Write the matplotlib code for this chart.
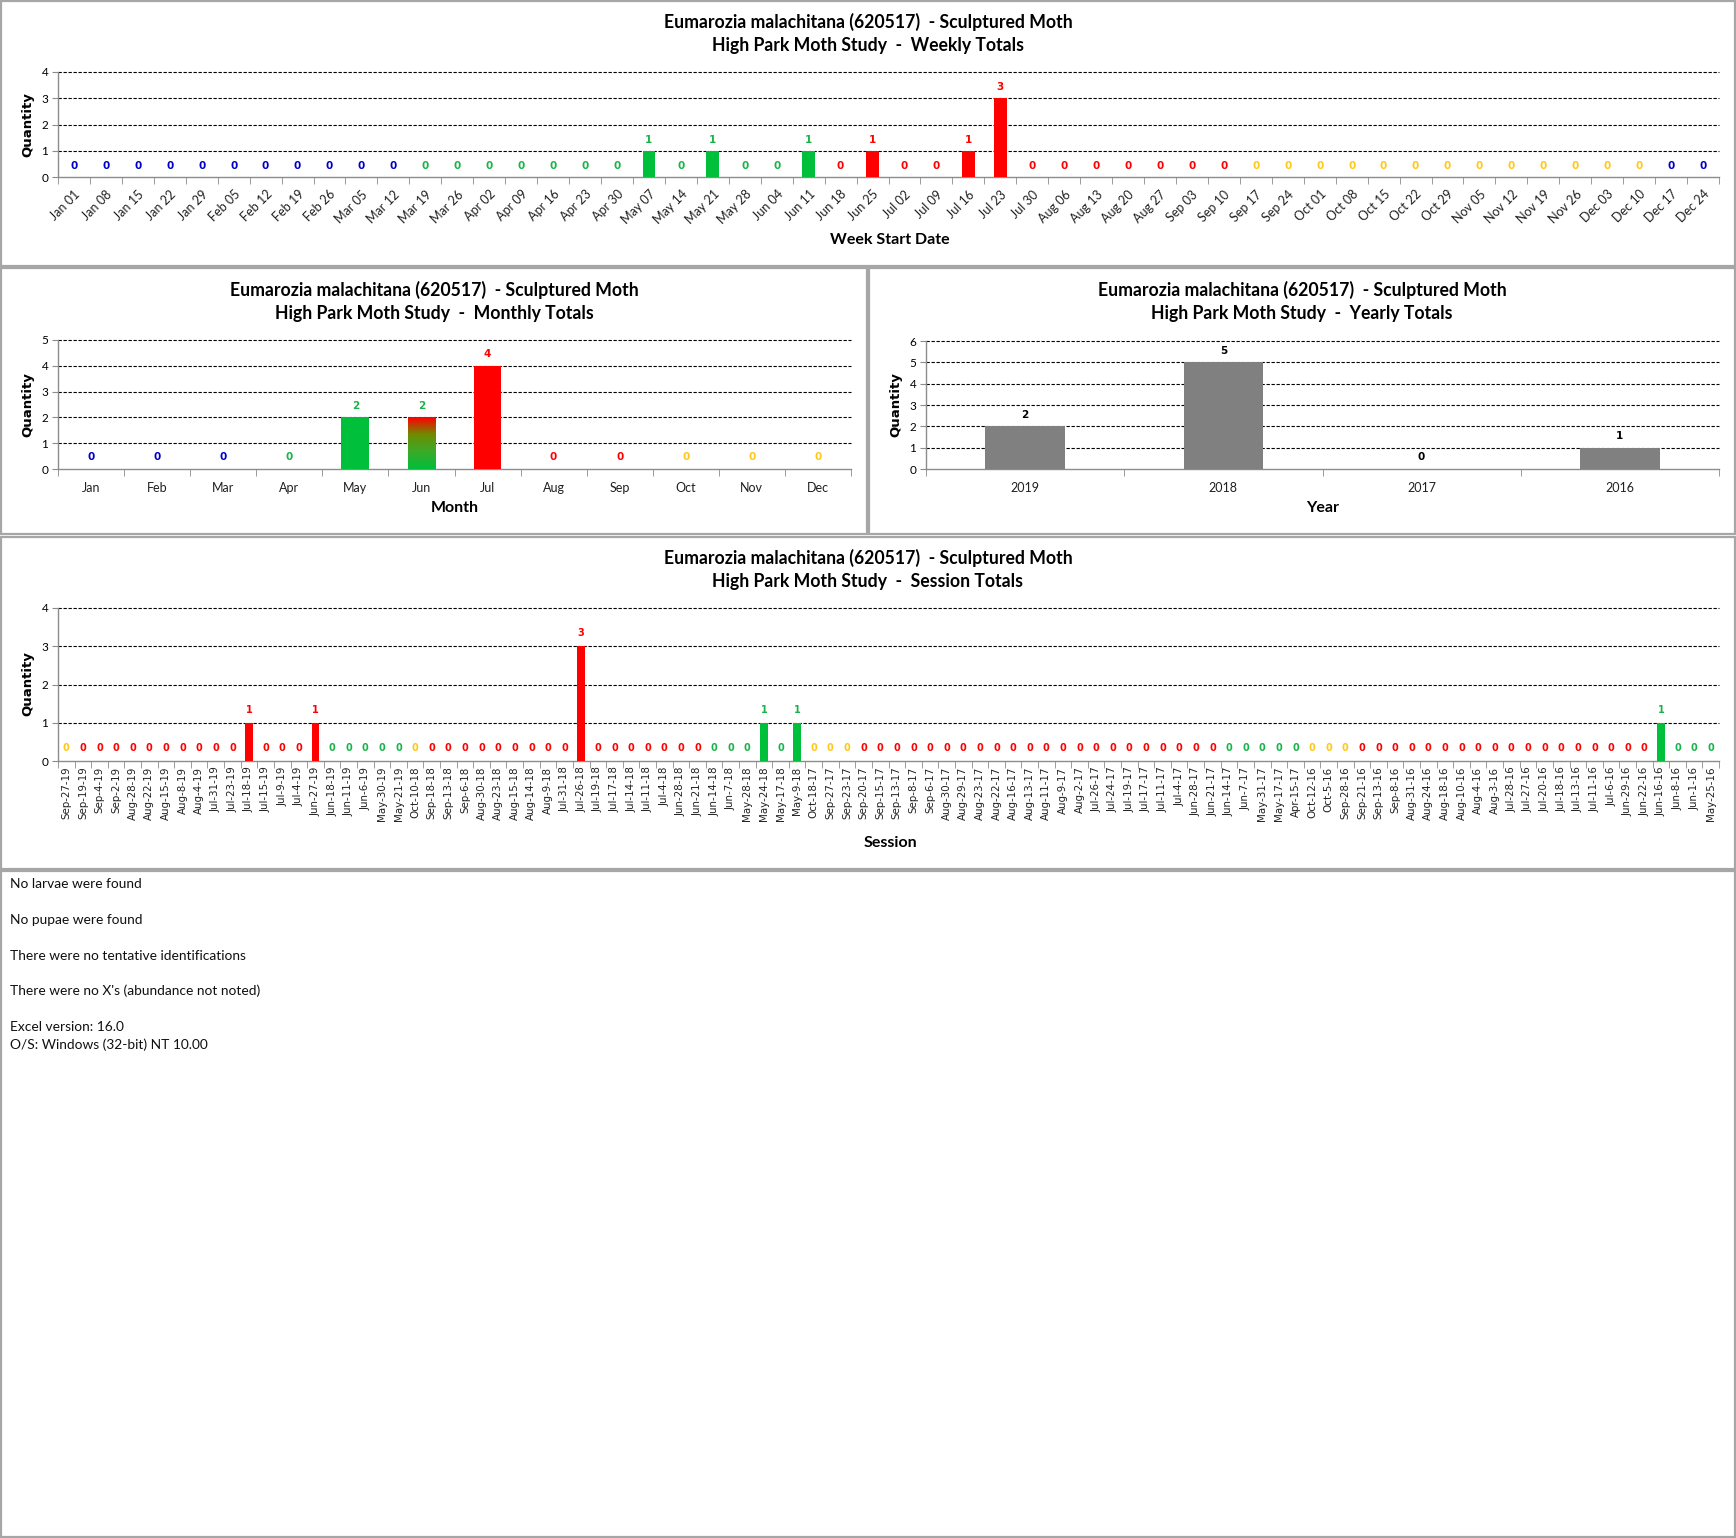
import matplotlib
matplotlib.use("Agg")
import matplotlib.pyplot as plt
import numpy as np
from matplotlib.patches import Rectangle

# ---------------- DATA ----------------
title_line1 = "Eumarozia malachitana (620517)  - Sculptured Moth"

week_labels = ["Jan 01", "Jan 08", "Jan 15", "Jan 22", "Jan 29", "Feb 05", "Feb 12", "Feb 19", "Feb 26",
               "Mar 05", "Mar 12", "Mar 19", "Mar 26", "Apr 02", "Apr 09", "Apr 16", "Apr 23", "Apr 30",
               "May 07", "May 14", "May 21", "May 28", "Jun 04", "Jun 11", "Jun 18", "Jun 25", "Jul 02",
               "Jul 09", "Jul 16", "Jul 23", "Jul 30", "Aug 06", "Aug 13", "Aug 20", "Aug 27", "Sep 03",
               "Sep 10", "Sep 17", "Sep 24", "Oct 01", "Oct 08", "Oct 15", "Oct 22", "Oct 29", "Nov 05",
               "Nov 12", "Nov 19", "Nov 26", "Dec 03", "Dec 10", "Dec 17", "Dec 24"]
week_values = [0] * 18 + [1, 0, 1, 0, 0, 1, 0, 1, 0, 0, 1, 3] + [0] * 22
week_colors = ["B"] * 11 + ["G"] * 13 + ["R"] * 13 + ["Y"] * 13 + ["B"] * 2

month_labels = ["Jan", "Feb", "Mar", "Apr", "May", "Jun", "Jul", "Aug", "Sep", "Oct", "Nov", "Dec"]
month_values = [0, 0, 0, 0, 2, 2, 4, 0, 0, 0, 0, 0]
month_colors = ["B", "B", "B", "G", "G", "RG", "R", "R", "R", "Y", "Y", "Y"]

year_labels = ["2019", "2018", "2017", "2016"]
year_values = [2, 5, 0, 1]

session_labels = ["Sep-27-19", "Sep-19-19", "Sep-4-19", "Sep-2-19", "Aug-28-19", "Aug-22-19", "Aug-15-19",
                  "Aug-8-19", "Aug-4-19", "Jul-31-19", "Jul-23-19", "Jul-18-19", "Jul-15-19", "Jul-9-19",
                  "Jul-4-19", "Jun-27-19", "Jun-18-19", "Jun-11-19", "Jun-6-19", "May-30-19", "May-21-19",
                  "Oct-10-18", "Sep-18-18", "Sep-13-18", "Sep-6-18", "Aug-30-18", "Aug-23-18", "Aug-15-18",
                  "Aug-14-18", "Aug-9-18", "Jul-31-18", "Jul-26-18", "Jul-19-18", "Jul-17-18", "Jul-14-18",
                  "Jul-11-18", "Jul-4-18", "Jun-28-18", "Jun-21-18", "Jun-14-18", "Jun-7-18", "May-28-18",
                  "May-24-18", "May-17-18", "May-9-18", "Oct-18-17", "Sep-27-17", "Sep-23-17", "Sep-20-17",
                  "Sep-15-17", "Sep-13-17", "Sep-8-17", "Sep-6-17", "Aug-30-17", "Aug-29-17", "Aug-23-17",
                  "Aug-22-17", "Aug-16-17", "Aug-13-17", "Aug-11-17", "Aug-9-17", "Aug-2-17", "Jul-26-17",
                  "Jul-24-17", "Jul-19-17", "Jul-17-17", "Jul-11-17", "Jul-4-17", "Jun-28-17", "Jun-21-17",
                  "Jun-14-17", "Jun-7-17", "May-31-17", "May-17-17", "Apr-15-17", "Oct-12-16", "Oct-5-16",
                  "Sep-28-16", "Sep-21-16", "Sep-13-16", "Sep-8-16", "Aug-31-16", "Aug-24-16", "Aug-18-16",
                  "Aug-10-16", "Aug-4-16", "Aug-3-16", "Jul-28-16", "Jul-27-16", "Jul-20-16", "Jul-18-16",
                  "Jul-13-16", "Jul-11-16", "Jul-6-16", "Jun-29-16", "Jun-22-16", "Jun-16-16", "Jun-8-16",
                  "Jun-1-16", "May-25-16"]
session_values = [0] * 100
session_values[11] = 1
session_values[15] = 1
session_values[31] = 3
session_values[42] = 1
session_values[44] = 1
session_values[96] = 1
session_colors = (["Y"] + ["R"] * 15 + ["G"] * 5 + ["Y"] + ["R"] * 17 + ["G"] * 6 + ["Y"] * 3
                  + ["R"] * 22 + ["G"] * 5 + ["Y"] * 3 + ["R"] * 18 + ["G"] * 4)

notes = ["No larvae were found", "No pupae were found", "There were no tentative identifications",
         "There were no X's (abundance not noted)", "Excel version: 16.0", "O/S: Windows (32-bit) NT 10.00"]

# ---------------- STYLE ----------------
TXT = {"B": "#0000C8", "G": "#1AB34A", "R": "#FF0000", "Y": "#FFC819", "RG": "#1AB34A"}
BAR = {"B": "#0000C8", "G": "#00BF3A", "R": "#FF0000", "Y": "#FFC000"}
CAL = ["Lato", "DejaVu Sans"]

W, H = 1736, 1538
fig = plt.figure(figsize=(W / 100, H / 100), dpi=100)


def px_ax(l, t, r, b):
    return fig.add_axes([l / W, 1 - b / H, (r - l) / W, (b - t) / H])


def border(l, t, r, b):
    fig.patches.append(Rectangle((l / W, 1 - b / H), (r - l) / W, (b - t) / H, transform=fig.transFigure,
                                 fill=False, edgecolor="#A6A6A6", linewidth=1.6))


def ftext(x, y, s, **kw):
    fig.text(x / W, 1 - y / H, s, **kw)


def style_axes(ax, n, ymax):
    ax.set_xlim(-0.5, n - 0.5)
    ax.set_ylim(0, ymax)
    for s in ["top", "right"]:
        ax.spines[s].set_visible(False)
    for s in ["left", "bottom"]:
        ax.spines[s].set_color("#8C8C8C")
        ax.spines[s].set_linewidth(1.0)
    for y in range(1, ymax + 1):
        ax.axhline(y, color="black", linestyle=(0, (3, 1.5)), linewidth=0.8, zorder=1, clip_on=False)
    ax.set_yticks(range(0, ymax + 1))
    ax.tick_params(axis="y", length=4, color="#8C8C8C", labelsize=8.5, pad=3)
    for lab in ax.get_yticklabels():
        lab.set_family(CAL)
    ax.set_xticks(np.arange(n))
    ax.set_xticks(np.arange(n + 1) - 0.5, minor=True)
    ax.tick_params(axis="x", which="major", length=0)
    ax.tick_params(axis="x", which="minor", length=5, color="#8C8C8C")


def data_labels(ax, values, colors, fs=7.5, off=8.5):
    for i, (v, c) in enumerate(zip(values, colors)):
        ax.annotate(str(v), xy=(i, v), xytext=(0, off), textcoords="offset points", ha="center",
                    va="center", color=TXT[c] if c in TXT else c, fontsize=fs, fontweight="bold",
                    family=["DejaVu Sans"], annotation_clip=False)


TFS = 12.7

# ---------------- PANEL BORDERS ----------------
border(1, 1, 1735, 266)
border(1, 268, 867, 534)
border(869, 268, 1735, 534)
border(1, 537, 1735, 869)
border(1, 871, 1735, 1537)

# ---------------- WEEKLY ----------------
ax = px_ax(58, 72, 1719, 177)
style_axes(ax, len(week_values), 4)
x = np.arange(len(week_values))
ax.bar(x, week_values, width=0.4, color=[BAR[c] for c in week_colors], zorder=3)
data_labels(ax, week_values, week_colors, fs=7.5, off=8)
ax.set_xticklabels(week_labels, rotation=45, ha="right", rotation_mode="anchor", fontsize=9,
                   family=CAL, color="#202020")
ax.tick_params(axis="x", which="major", pad=8)
ftext(868, 22, title_line1, ha="center", va="center", fontsize=TFS, fontweight="bold", family=CAL)
ftext(868, 46, "High Park Moth Study  -  Weekly Totals", ha="center", va="center", fontsize=TFS,
      fontweight="bold", family=CAL)
ftext(890, 240, "Week Start Date", ha="center", va="center", fontsize=11.5, fontweight="bold", family=CAL)
ftext(28, 125, "Quantity", ha="center", va="center", rotation=90, fontsize=9.5, fontweight="bold",
      family=["DejaVu Sans"])

# ---------------- MONTHLY ----------------
ax = px_ax(58, 340, 851, 469)
style_axes(ax, len(month_values), 5)
x = np.arange(len(month_values))
for i, (v, c) in enumerate(zip(month_values, month_colors)):
    if c == "RG":
        grad = np.linspace(0, 1, 100).reshape(-1, 1)
        cmap = matplotlib.colors.LinearSegmentedColormap.from_list(
            "gr", ["#00BF3A", "#3CAA2A", "#6E8C00", "#FF0000"])
        ax.imshow(grad, extent=[i - 0.21, i + 0.21, 0, v], cmap=cmap, aspect="auto", zorder=3,
                  origin="lower")
    else:
        ax.bar(i, v, width=0.42, color=BAR[c], zorder=3)
ax.set_xlim(-0.5, len(month_values) - 0.5)
ax.set_ylim(0, 5)
data_labels(ax, month_values, month_colors, fs=7.5, off=8.5)
ax.set_xticklabels(month_labels, fontsize=9, family=CAL, color="#202020")
ax.tick_params(axis="x", which="major", pad=9)
ftext(434, 290, title_line1, ha="center", va="center", fontsize=TFS, fontweight="bold", family=CAL)
ftext(434, 314, "High Park Moth Study  -  Monthly Totals", ha="center", va="center", fontsize=TFS,
      fontweight="bold", family=CAL)
ftext(455, 508, "Month", ha="center", va="center", fontsize=11.5, fontweight="bold", family=CAL)
ftext(28, 405, "Quantity", ha="center", va="center", rotation=90, fontsize=9.5, fontweight="bold",
      family=["DejaVu Sans"])

# ---------------- YEARLY ----------------
ax = px_ax(926, 341, 1719, 469)
style_axes(ax, len(year_values), 6)
x = np.arange(len(year_values))
ax.bar(x, year_values, width=0.4, color="#808080", zorder=3)
data_labels(ax, year_values, ["black"] * len(year_values), fs=7.5, off=8.5)
ax.set_xticklabels(year_labels, fontsize=9, family=CAL, color="#202020")
ax.tick_params(axis="x", which="major", pad=9)
ftext(1302, 290, title_line1, ha="center", va="center", fontsize=TFS, fontweight="bold", family=CAL)
ftext(1302, 314, "High Park Moth Study  -  Yearly Totals", ha="center", va="center", fontsize=TFS,
      fontweight="bold", family=CAL)
ftext(1323, 508, "Year", ha="center", va="center", fontsize=11.5, fontweight="bold", family=CAL)
ftext(896, 405, "Quantity", ha="center", va="center", rotation=90, fontsize=9.5, fontweight="bold",
      family=["DejaVu Sans"])

# ---------------- SESSION ----------------
ax = px_ax(58, 608, 1719, 761)
style_axes(ax, len(session_values), 4)
x = np.arange(len(session_values))
ax.bar(x, session_values, width=0.45, color=[BAR[c] for c in session_colors], zorder=3)
data_labels(ax, session_values, session_colors, fs=7, off=9.5)
ax.set_xticklabels(session_labels, rotation=90, ha="center", va="top", fontsize=7.4,
                   family=["DejaVu Sans"], color="#202020")
ax.tick_params(axis="x", which="major", pad=4)
ftext(868, 558, title_line1, ha="center", va="center", fontsize=TFS, fontweight="bold", family=CAL)
ftext(868, 582, "High Park Moth Study  -  Session Totals", ha="center", va="center", fontsize=TFS,
      fontweight="bold", family=CAL)
ftext(890, 843, "Session", ha="center", va="center", fontsize=11.5, fontweight="bold", family=CAL)
ftext(28, 684, "Quantity", ha="center", va="center", rotation=90, fontsize=9.5, fontweight="bold",
      family=["DejaVu Sans"])

# ---------------- NOTES ----------------
note_y = [884, 920, 956, 991, 1027, 1045]
for s, y in zip(notes, note_y):
    ftext(10, y, s, ha="left", va="center", fontsize=9.9, family=CAL, color="#101010")

fig.savefig("out.png", dpi=100, facecolor="white")
